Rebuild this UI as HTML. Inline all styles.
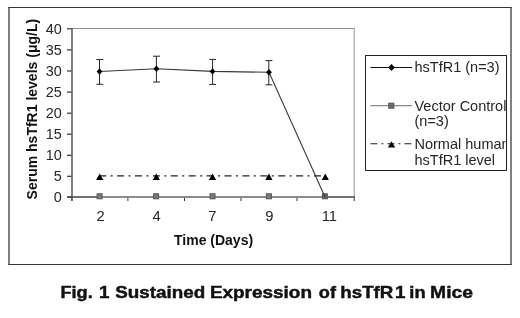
<!DOCTYPE html>
<html><head><meta charset="utf-8">
<style>
html,body{margin:0;padding:0;background:#fff;width:520px;height:318px;overflow:hidden}
svg{display:block;filter:grayscale(1)}
text{font-family:"Liberation Sans",sans-serif;}
</style></head><body>
<svg width="520" height="318" viewBox="0 0 520 318">
<defs>
<clipPath id="lg"><rect x="366" y="56" width="140" height="114"/></clipPath>
</defs>
<!-- outer border -->
<g fill="none">
<line x1="8.3" y1="7.5" x2="511.7" y2="7.5" stroke="#383838" stroke-width="1.2"/>
<line x1="8.3" y1="264.5" x2="511.7" y2="264.5" stroke="#383838" stroke-width="1.2"/>
<line x1="9" y1="7" x2="9" y2="265" stroke="#4a4a4a" stroke-width="1.4"/>
<line x1="511" y1="7" x2="511" y2="265" stroke="#4a4a4a" stroke-width="1.4"/>
</g>
<!-- plot area border -->
<g fill="none" stroke="#959595" stroke-width="1">
<line x1="72" y1="28.5" x2="354.7" y2="28.5"/>
<line x1="354.2" y1="28.5" x2="354.2" y2="197"/>
</g>
<!-- axes -->
<g fill="none" stroke="#333" stroke-width="1">
<!-- y ticks -->
<line x1="67" y1="28.8" x2="72" y2="28.8" stroke-width="1.2"/>
<line x1="67" y1="49.9" x2="72" y2="49.9" stroke-width="1.2"/>
<line x1="67" y1="71.0" x2="72" y2="71.0" stroke-width="1.2"/>
<line x1="67" y1="92.1" x2="72" y2="92.1" stroke-width="1.2"/>
<line x1="67" y1="113.2" x2="72" y2="113.2" stroke-width="1.2"/>
<line x1="67" y1="134.2" x2="72" y2="134.2" stroke-width="1.2"/>
<line x1="67" y1="155.3" x2="72" y2="155.3" stroke-width="1.2"/>
<line x1="67" y1="176.3" x2="72" y2="176.3" stroke-width="1.2"/>
<line x1="67" y1="197.0" x2="72" y2="197.0" stroke-width="1.2"/>
<!-- x ticks -->
<line x1="71.8" y1="197" x2="71.8" y2="201"/>
<line x1="127.9" y1="197" x2="127.9" y2="201"/>
<line x1="184.5" y1="197" x2="184.5" y2="201"/>
<line x1="241" y1="197" x2="241" y2="201"/>
<line x1="297" y1="197" x2="297" y2="201"/>
<line x1="354.2" y1="197" x2="354.2" y2="201"/>
</g>
<line x1="72" y1="28.3" x2="72" y2="201" stroke="#606060" stroke-width="1.6"/>
<!-- y labels -->
<g font-size="14.4" fill="#262626" text-anchor="end">
<text x="61.7" y="33.8">40</text>
<text x="61.7" y="54.9">35</text>
<text x="61.7" y="76.0">30</text>
<text x="61.7" y="97.1">25</text>
<text x="61.7" y="118.2">20</text>
<text x="61.7" y="139.2">15</text>
<text x="61.7" y="160.3">10</text>
<text x="61.7" y="181.3">5</text>
<text x="61.7" y="202.0">0</text>
</g>
<!-- x labels -->
<g font-size="14.8" fill="#262626" text-anchor="middle">
<text x="100.7" y="221.3">2</text>
<text x="156.5" y="221.3">4</text>
<text x="212.3" y="221.3">7</text>
<text x="269.3" y="221.3">9</text>
<text x="329.4" y="221.3">11</text>
</g>
<!-- vector control series -->
<line x1="67.5" y1="196.9" x2="354.6" y2="196.9" stroke="#444" stroke-width="1.5"/>
<line x1="99.7" y1="196.9" x2="325" y2="196.9" stroke="#8c8c8c" stroke-width="2"/>
<g fill="#7a7a7a" stroke="#565656" stroke-width="1">
<rect x="97.1" y="193.8" width="5" height="5"/>
<rect x="153.6" y="193.8" width="5" height="5"/>
<rect x="210" y="193.8" width="5" height="5"/>
<rect x="266.4" y="193.8" width="5" height="5"/>
<rect x="322.4" y="193.8" width="5" height="5" fill="#666"/>
</g>
<!-- normal human series -->
<line x1="99.2" y1="175.9" x2="325.3" y2="175.9" stroke="#222" stroke-width="1.1" stroke-dasharray="7 4.45 2 4.45"/>
<g fill="#000">
<path d="M99.7 173.6 L103.3 180 L96.1 180 Z"/>
<path d="M156.3 173.6 L159.9 180 L152.7 180 Z"/>
<path d="M212.5 173.6 L216.1 180 L208.9 180 Z"/>
<path d="M268.9 173.6 L272.5 180 L265.3 180 Z"/>
<path d="M325.3 173.6 L328.9 180 L321.7 180 Z"/>
</g>
<!-- hsTfR1 series -->
<g stroke="#262626" stroke-width="1" fill="none">
<line x1="99.5" y1="59.3" x2="99.5" y2="84.3"/><line x1="96.3" y1="59.5" x2="103.2" y2="59.5"/><line x1="96.3" y1="84.3" x2="103.2" y2="84.3"/>
<line x1="156.4" y1="56" x2="156.4" y2="82"/><line x1="153" y1="56.2" x2="160" y2="56.2"/><line x1="153" y1="82" x2="160" y2="82"/>
<line x1="212.6" y1="59.3" x2="212.6" y2="84.4"/><line x1="209.2" y1="59.4" x2="216" y2="59.4"/><line x1="209.2" y1="84.4" x2="216" y2="84.4"/>
<line x1="268.8" y1="60.5" x2="268.8" y2="84.8"/><line x1="265.5" y1="60.6" x2="272.4" y2="60.6"/><line x1="265.5" y1="84.8" x2="272.4" y2="84.8"/>
</g>
<polyline points="99.5,71.5 156.4,68.7 212.5,71.4 269,72.3 325,197" fill="none" stroke="#383838" stroke-width="1.1"/>
<g fill="#000">
<path d="M99.5 68.3 L102.4 71.5 L99.5 74.7 L96.6 71.5 Z"/>
<path d="M156.4 65.5 L159.3 68.7 L156.4 71.9 L153.5 68.7 Z"/>
<path d="M212.5 68.2 L215.4 71.4 L212.5 74.6 L209.6 71.4 Z"/>
<path d="M269 69.1 L271.9 72.3 L269 75.5 L266.1 72.3 Z"/>
</g>
<!-- legend -->
<rect x="365.5" y="55.5" width="141" height="115" fill="none" stroke="#222" stroke-width="1"/>
<line x1="370.4" y1="67.5" x2="412" y2="67.5" stroke="#111" stroke-width="1.2"/>
<path d="M391.5 64 L394.8 67.5 L391.5 71 L388.2 67.5 Z" fill="#000"/>
<line x1="370.4" y1="105.7" x2="412" y2="105.7" stroke="#8a8a8a" stroke-width="1.2"/>
<rect x="388.8" y="103.2" width="5" height="5" fill="#6e6e6e" stroke="#505050" stroke-width="1"/>
<line x1="370.4" y1="143.8" x2="412" y2="143.8" stroke="#222" stroke-width="1.1" stroke-dasharray="7 4 2 4"/>
<path d="M391.5 141.2 L395.1 147.4 L387.9 147.4 Z" fill="#000"/>
<g font-size="14.5" fill="#262626" clip-path="url(#lg)">
<text x="414.5" y="72.2">hsTfR1 (n=3)</text>
<text x="414.5" y="110.5">Vector Control</text>
<text x="414.5" y="126.4">(n=3)</text>
<text x="414.5" y="148.8">Normal human</text>
<text x="414.5" y="165">hsTfR1 level</text>
</g>
<!-- axis titles -->
<text x="174" y="245" font-size="14" font-weight="bold" fill="#111">Time (Days)</text>
<text transform="translate(36.5 199.4) rotate(-90)" x="0" y="0" font-size="14" font-weight="bold" fill="#111">Serum hsTfR1 levels (&#956;g/L)</text>
<!-- caption -->
<g font-size="16.5" font-weight="bold" fill="#111" stroke="#111" stroke-width="0.45">
<text transform="translate(60.5 0) scale(1.1 1)" x="0" y="298">Fig.</text>
<text transform="translate(98.9 0) scale(1.14 1)" x="0" y="298">1</text>
<text transform="translate(115.3 0) scale(1.142 1)" x="0" y="298">Sustained</text>
<text transform="translate(209.9 0) scale(1.148 1)" x="0" y="298">Expression</text>
<text transform="translate(318.8 0) scale(1.1 1)" x="0" y="298">of</text>
<text transform="translate(340.3 0) scale(1.135 1)" x="0" y="298">hsTfR</text>
<text transform="translate(395 0) scale(1.14 1)" x="0" y="298">1</text>
<text transform="translate(409.3 0) scale(1.11 1)" x="0" y="298">in</text>
<text transform="translate(430.1 0) scale(1.17 1)" x="0" y="298">Mice</text>
</g>
</svg>
</body></html>
